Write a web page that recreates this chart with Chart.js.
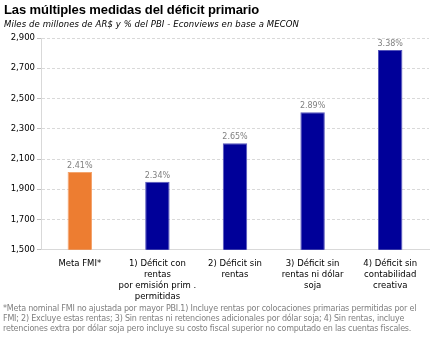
<!DOCTYPE html>
<html>
<head>
<meta charset="utf-8">
<script src="https://cdn.jsdelivr.net/npm/chart.js@4.4.1/dist/chart.umd.min.js"></script>
<style>
  html, body { margin: 0; padding: 0; background: #fff; }
  #wrap { position: relative; width: 443px; height: 342px; overflow: hidden; }
  #c { position: absolute; left: 0; top: 0; }
  #title { position: absolute; left: 4px; top: 2px; font: bold 13px "Liberation Sans", Arial, sans-serif; color: #000; white-space: nowrap; letter-spacing: -0.1px; }
  #sub { position: absolute; left: 4px; top: 19px; font: italic 8.5px "DejaVu Sans", sans-serif; color: #000; white-space: nowrap; letter-spacing: 0.1px; }
  #foot { position: absolute; left: 3px; top: 304px; font: 8px "DejaVu Sans", sans-serif; color: #7f7f7f; line-height: 10px; white-space: nowrap; letter-spacing: -0.2px; }
</style>
</head>
<body>
<div id="wrap">
  <canvas id="c" width="443" height="342"></canvas>
  <div id="title">Las múltiples medidas del déficit primario</div>
  <div id="sub">Miles de millones de AR$  y % del PBI - Econviews en base a MECON</div>
  <div id="foot">*Meta nominal FMI no ajustada por mayor PBI.1) Incluye rentas por colocaciones primarias permitidas por el<br>FMI; 2) Excluye estas rentas; 3) Sin rentas ni retenciones adicionales por dólar soja; 4) Sin rentas, incluye<br>retenciones extra por dólar soja pero incluye su costo fiscal superior no computado en las cuentas fiscales.</div>
</div>
<script>
const categories = [
  "Meta FMI*",
  ["1) Déficit con", "rentas", "por emisión prim .", "permitidas"],
  ["2) Déficit sin", "rentas"],
  ["3) Déficit sin", "rentas ni dólar", "soja"],
  ["4) Déficit sin", "contabilidad", "creativa"]
];
const values = [2015, 1950, 2205, 2410, 2820];
const pctLabels = ["2.41%", "2.34%", "2.65%", "2.89%", "3.38%"];
const barColors = ["#ED7D31", "#000099", "#000099", "#000099", "#000099"];
const barBorders = ["#F4A56E", "#5555BB", "#5555BB", "#5555BB", "#5555BB"];
const yMin = 1500, yMax = 2900, yStep = 200;

const valueLabels = {
  id: 'valueLabels',
  afterDatasetsDraw(chart) {
    const ctx = chart.ctx;
    const meta = chart.getDatasetMeta(0);
    ctx.save();
    ctx.font = '8px "DejaVu Sans", sans-serif';
    ctx.fillStyle = '#808080';
    ctx.textAlign = 'center';
    ctx.textBaseline = 'bottom';
    meta.data.forEach((bar, i) => {
      ctx.fillText(pctLabels[i], bar.x, bar.y - 2);
    });
    ctx.restore();
  }
};

new Chart(document.getElementById('c'), {
  type: 'bar',
  data: {
    labels: categories,
    datasets: [{
      data: values,
      backgroundColor: barColors,
      borderColor: barBorders,
      borderWidth: 1,
      barPercentage: 0.315,
      categoryPercentage: 1
    }]
  },
  options: {
    responsive: false,
    animation: false,
    devicePixelRatio: 1,
    layout: { padding: { left: 0, right: 14, top: 38, bottom: 32 } },
    plugins: { legend: { display: false }, tooltip: { enabled: false }, title: { display: false } },
    scales: {
      x: {
        grid: { display: false, drawTicks: false },
        border: { display: true, color: '#d9d9d9', width: 1 },
        ticks: {
          color: '#000',
          font: { family: '"DejaVu Sans", sans-serif', size: 8.5, lineHeight: 1.3 },
          padding: 8,
          maxRotation: 0,
          autoSkip: false
        }
      },
      y: {
        min: yMin, max: yMax,
        afterFit(scale) { scale.width = 41; },
        grid: { color: '#d9d9d9', tickLength: 4, tickColor: '#bfbfbf' },
        border: { display: true, color: '#d9d9d9', width: 1, dash: [3, 2] },
        ticks: {
          stepSize: yStep,
          color: '#000',
          padding: 2,
          font: { family: '"DejaVu Sans", sans-serif', size: 8.5 },
          callback: v => v.toLocaleString('en-US')
        }
      }
    }
  },
  plugins: [valueLabels]
});
</script>
</body>
</html>
